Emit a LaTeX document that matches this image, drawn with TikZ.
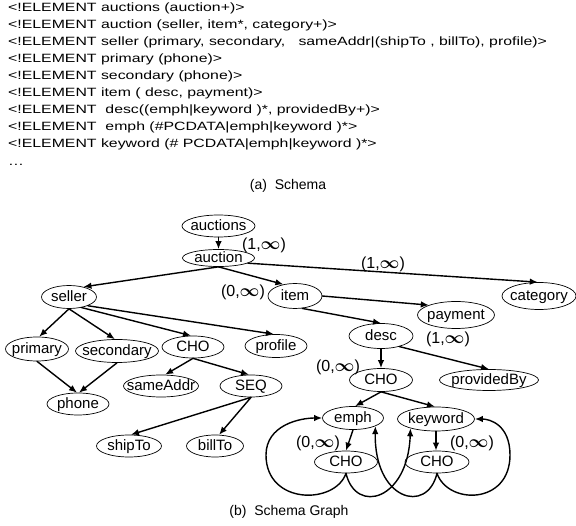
\documentclass[tikz,border=0pt]{standalone}
\usepackage{fontspec}
\setmainfont{Liberation Sans}
\newfontfamily\dtdfont{Liberation Sans}[FakeStretch=1.32]
\usetikzlibrary{shapes.geometric,arrows.meta}
\begin{document}
\begin{tikzpicture}[line join=round, line cap=round, >={Latex[length=8pt,width=6.5pt]}, x=1pt, y=-1pt]
	\tikzset{el/.style 2 args={ellipse, draw, line width=0.7pt, inner sep=-40pt, minimum width=#1, minimum height=#2, text height=11pt, text depth=1pt, font=\fontsize{15}{17}\selectfont},
		dtd/.style={anchor=base west, inner sep=0pt, font=\dtdfont\fontsize{12}{14}\selectfont},
		card/.style={inner sep=0pt, font=\fontsize{16}{18}\selectfont},
		capt/.style={inner sep=0pt, font=\fontsize{14}{16}\selectfont},
		edge/.style={->, line width=1.4pt}}
	\useasboundingbox (0,0) rectangle (576,526);
	% (a) Schema
	\node[dtd] (l1) at (8,11.7) {<!ELEMENT auctions (auction+)>};
	\node[dtd] (l2) at (8,28.7) {<!ELEMENT auction (seller, item*, category+)>};
	\node[dtd] (l3) at (8,45.7) {<!ELEMENT seller (primary, secondary,\ \ \ sameAddr|(shipTo , billTo), profile)>};
	\node[dtd] (l4) at (8,62.7) {<!ELEMENT primary (phone)>};
	\node[dtd] (l5) at (8,79.7) {<!ELEMENT secondary (phone)>};
	\node[dtd] (l6) at (8,96.7) {<!ELEMENT item ( desc, payment)>};
	\node[dtd] (l7) at (8,113.7) {<!ELEMENT\ \ desc((emph|keyword )*, providedBy+)>};
	\node[dtd] (l8) at (8,130.7) {<!ELEMENT\ \ emph (\#PCDATA|emph|keyword )*>};
	\node[dtd] (l9) at (8,147.7) {<!ELEMENT keyword (\# PCDATA|emph|keyword )*>};
	\node[dtd] (l10) at (8,166) {\dots};
	\node[capt] (capa) at (288,186) {(a)\ \ Schema};
	% (b) Schema Graph
	\node[el={73pt}{22pt}] (auctions) at (218.5,226) {auctions};
	\node[el={72pt}{17pt}] (auction) at (218.5,258) {auction};
	\node[el={55pt}{23pt}] (seller) at (69,297) {seller};
	\node[el={54pt}{25pt}] (item) at (295,296) {item};
	\node[el={74pt}{27pt}] (category) at (539,296) {category};
	\node[el={77pt}{27pt}] (payment) at (456,315) {payment};
	\node[el={64pt}{25pt}] (desc) at (381,336) {desc};
	\node[el={63pt}{24pt}] (primary) at (37,349) {primary};
	\node[el={83pt}{23pt}] (secondary) at (117,351) {secondary};
	\node[el={62pt}{22pt}] (cho) at (193,347) {CHO};
	\node[el={62pt}{23pt}] (profile) at (276,346) {profile};
	\node[el={75pt}{22pt}] (sameAddr) at (161,386) {sameAddr};
	\node[el={62pt}{22pt}] (seq) at (251,386) {SEQ};
	\node[el={62pt}{22pt}] (phone) at (78,404) {phone};
	\node[el={65pt}{22pt}] (shipTo) at (129,446) {shipTo};
	\node[el={57pt}{22pt}] (billTo) at (215,446) {billTo};
	\node[el={63pt}{23pt}] (chod) at (381,380) {CHO};
	\node[el={99pt}{21pt}] (providedBy) at (489,380) {providedBy};
	\node[el={61pt}{23pt}] (emph) at (353,418) {emph};
	\node[el={77pt}{24pt}] (keyword) at (436,419) {keyword};
	\node[el={63pt}{22pt}] (choe) at (346,462) {CHO};
	\node[el={64pt}{22pt}] (chok) at (437,462) {CHO};
	\node[capt] (capb) at (289,512) {(b)\ \ Schema Graph};
	\foreach \x/\y/\n [count=\k] in {264/245/1,243/292/0,383/264/1,448/339/1,338/367/0,318/443/0,472/443/0}
	\node[card] (card\k) at (\x,\y) {(\n,{\boldmath$\infty$})};
	% edges
	\draw[edge] (auctions) -- (auction);
	\draw[edge] (auction.south) -- (seller.35);
	\draw[edge] (auction.south) -- (item.135);
	\draw[edge] (auction.-10) -- (category.95);
	\draw[edge] (item.east) -- (payment.160);
	\draw[edge] (item.-60) -- (desc.north);
	\draw[edge] (seller.south) -- (primary.80);
	\draw[edge] (seller.south) -- (secondary.100);
	\draw[edge] (seller.-40) -- (cho.100);
	\draw[edge] (seller.-25) -- (profile.100);
	\draw[edge] (primary.south) -- (phone.95);
	\draw[edge] (secondary.south) -- (phone.85);
	\draw[edge] (cho.south) -- (sameAddr.70);
	\draw[edge] (cho.south) -- (seq.100);
	\draw[edge] (seq.south) -- (shipTo.80);
	\draw[edge] (seq.south) -- (billTo.70);
	\draw[edge] (desc) -- (chod);
	\draw[edge] (desc.-30) -- (providedBy.north);
	\draw[edge] (chod.south) -- (emph.80);
	\draw[edge] (chod.south) -- (keyword.95);
	\draw[edge] (emph.south) -- (choe.north);
	\draw[edge] (keyword.south) -- (keyword.south |- chok.north);
	% recursive loops
	\draw[edge] (choe.south) .. controls (335,505) and (266,505) .. (266,455) .. controls (266,425) and (300,418) .. (emph.west);
	\draw[edge] (choe.south) .. controls (356,515) and (408,500) .. (keyword.-160);
	\draw[edge] (chok.south) .. controls (427,515) and (374,500) .. (emph.-20);
	\draw[edge] (chok.south) .. controls (448,505) and (510,505) .. (510,455) .. controls (510,425) and (490,419) .. (keyword.east);
\end{tikzpicture}
\end{document}
